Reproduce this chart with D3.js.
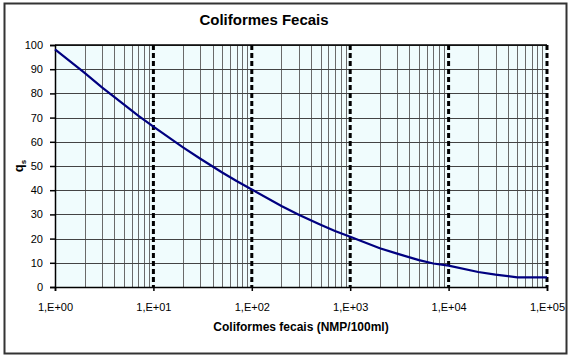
<!DOCTYPE html>
<html><head><meta charset="utf-8">
<script src="https://cdn.jsdelivr.net/npm/d3@7"></script>
<style>body{margin:0;background:#fff}svg{display:block;font-family:"Liberation Sans",Arial,sans-serif}</style>
</head><body>
<svg id="c" width="571" height="360"></svg>
<script>
const chartTitle = "Coliformes Fecais";
const xTitle = "Coliformes fecais (NMP/100ml)";
const xValues = [1, 2, 3, 5, 7, 10, 20, 30, 50, 70, 100, 200, 300, 500, 700, 1000, 2000, 3000, 5000, 7000, 10000, 20000, 30000, 50000, 70000, 100000];
const qValues = [98.2, 88.5, 82.5, 75.5, 70.8, 66.3, 57.7, 53.0, 47.3, 43.8, 40.3, 33.5, 29.9, 25.7, 23.1, 20.8, 16.0, 13.8, 11.1, 9.7, 8.8, 6.2, 5.1, 4.0, 4.0, 4.0];
const xTickValues = [1, 10, 100, 1000, 10000, 100000];
const xTickLabels = ["1,E+00", "1,E+01", "1,E+02", "1,E+03", "1,E+04", "1,E+05"];
const yTickValues = [0, 10, 20, 30, 40, 50, 60, 70, 80, 90, 100];

const svg = d3.select("#c");
const L = 55, R = 547, T = 45, B = 287;
const x = d3.scaleLog().domain([1, 100000]).range([L, R]);
const y = d3.scaleLinear().domain([0, 100]).range([B, T]);

// frame
svg.append("rect").attr("x", 4.5).attr("y", 3.5).attr("width", 562).attr("height", 350)
  .attr("fill", "#fff").attr("stroke", "#333").attr("stroke-width", 2);

// plot bg
svg.append("rect").attr("x", L).attr("y", T).attr("width", R - L).attr("height", B - T).attr("fill", "#f0fcfd");

// minor vertical gridlines
const minor = [];
for (let d = 1; d < 100000; d *= 10) for (let k = 2; k <= 9; k++) minor.push(d * k);
svg.append("g").selectAll("line").data(minor).join("line")
  .attr("x1", d => Math.round(x(d)) + 0.5).attr("x2", d => Math.round(x(d)) + 0.5)
  .attr("y1", T).attr("y2", B).attr("stroke", "#6a6a6a").attr("stroke-width", 1);

// horizontal gridlines
svg.append("g").selectAll("line").data(yTickValues.filter(v => v > 0)).join("line")
  .attr("x1", L).attr("x2", R).attr("y1", d => Math.round(y(d)) + 0.5).attr("y2", d => Math.round(y(d)) + 0.5)
  .attr("stroke", "#444").attr("stroke-width", 1);

// major dashed lines
svg.append("g").selectAll("line").data(xTickValues.slice(1)).join("line")
  .attr("x1", d => x(d)).attr("x2", d => x(d)).attr("y1", T).attr("y2", B)
  .attr("stroke", "#000").attr("stroke-width", 3).attr("stroke-dasharray", "5,3");

// axes
const xAxis = d3.axisBottom(x).tickValues(xTickValues).tickFormat((d, i) => xTickLabels[i]).tickSize(4).tickPadding(12);
const gx = svg.append("g").attr("transform", `translate(0,${B})`).call(xAxis);
gx.select(".domain").attr("stroke", "#000").attr("stroke-width", 1.5);
gx.selectAll(".tick line").attr("stroke", "#000").attr("stroke-width", 1.5);
gx.selectAll("text").attr("font-size", 11).attr("fill", "#000").attr("font-family", "Liberation Sans, Arial, sans-serif");

const yAxis = d3.axisLeft(y).tickValues(yTickValues).tickSize(5).tickPadding(7);
const gy = svg.append("g").attr("transform", `translate(${L},0)`).call(yAxis);
gy.select(".domain").attr("stroke", "#000").attr("stroke-width", 1.5);
gy.selectAll(".tick line").attr("stroke", "#000").attr("stroke-width", 1.5);
gy.selectAll("text").attr("font-size", 11).attr("fill", "#000").attr("font-family", "Liberation Sans, Arial, sans-serif");

// top border of plot
svg.append("line").attr("x1", L).attr("x2", R).attr("y1", T).attr("y2", T).attr("stroke", "#000").attr("stroke-width", 1.5);

// curve
const data = xValues.map((v, i) => [v, qValues[i]]);
svg.append("path").datum(data)
  .attr("d", d3.line().x(d => x(d[0])).y(d => y(d[1])))
  .attr("fill", "none").attr("stroke", "#000080").attr("stroke-width", 2.2);

// titles
svg.append("text").attr("x", 264).attr("y", 25).attr("text-anchor", "middle")
  .attr("font-size", 15).attr("font-weight", "bold").text(chartTitle);
svg.append("text").attr("x", 301).attr("y", 331).attr("text-anchor", "middle")
  .attr("font-size", 12).attr("font-weight", "bold").text(xTitle);
const yl = svg.append("text").attr("transform", "translate(23,166) rotate(-90)").attr("text-anchor", "middle")
  .attr("font-size", 13).attr("font-weight", "bold");
yl.append("tspan").text("q");
yl.append("tspan").attr("font-size", 8).attr("dy", 3).text("s");
</script>
</body></html>
